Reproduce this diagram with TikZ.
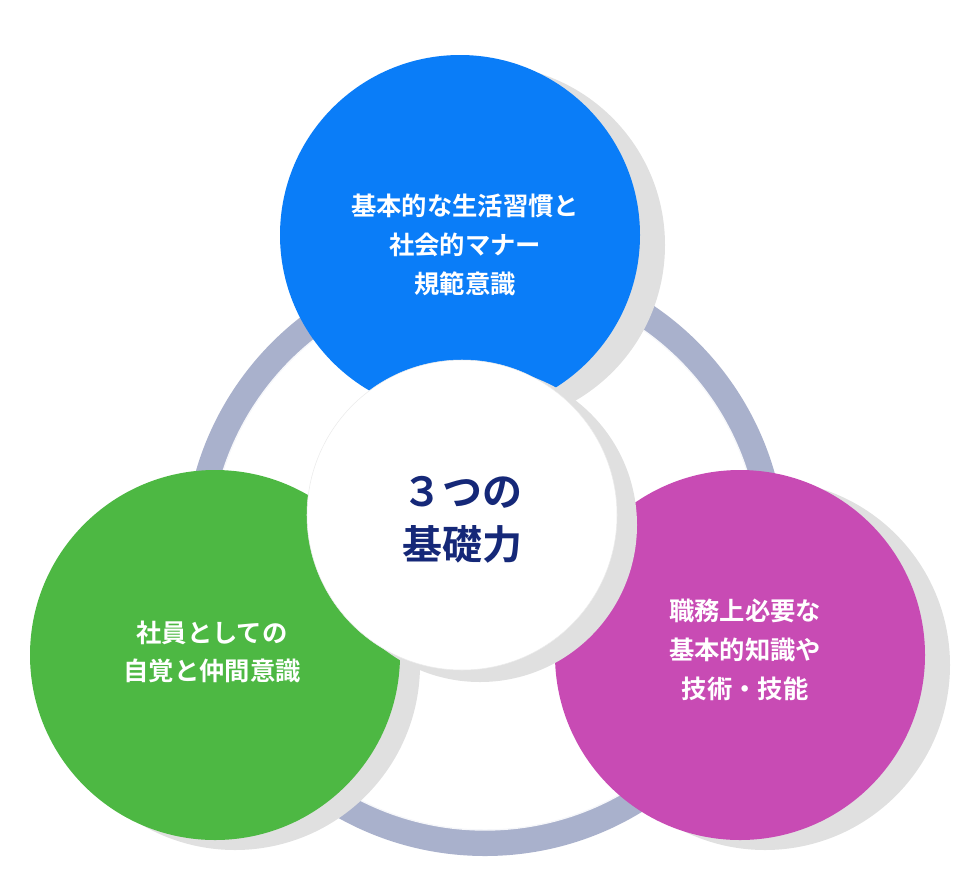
\documentclass[tikz,border=0pt]{standalone}
\usepackage{fontspec}
\newfontfamily\cjk{Noto Sans CJK JP}[BoldFont={Noto Sans CJK JP Bold}]
\definecolor{cblue}{HTML}{0A7DF8}
\definecolor{cgreen}{HTML}{4DB843}
\definecolor{cmag}{HTML}{C84BB4}
\definecolor{cnavy}{HTML}{152878}
\definecolor{cring}{HTML}{A9B1CC}
\tikzset{
 lbl/.style={text=white,align=center,font=\cjk\bfseries\fontsize{19}{29}\selectfont},
 shad/.style={fill=black!12},
}
\begin{document}
\begin{tikzpicture}[x=0.75pt,y=-0.75pt]
\useasboundingbox (0,0) rectangle (974,886);
% ring
\draw[cring,line width=19.5pt] (485,555) circle (288);
\draw[white!90!cring,line width=1pt] (485,555) circle (275);
% blue
\fill[shad] (485,245) circle (180);
\node[circle,fill=cblue,minimum size=360*0.75pt,inner sep=0] (blue) at (460,235) {};
\node[lbl] (tb) at (465,245) {基本的な生活習慣と\\社会的マナー\\規範意識};
% green
\fill[shad] (235,665) circle (185);
\node[circle,fill=cgreen,minimum size=370*0.75pt,inner sep=0] (green) at (215,655) {};
\node[lbl] (tg) at (212,652) {社員としての\\自覚と仲間意識};
% magenta
\fill[shad] (765,665) circle (185);
\node[circle,fill=cmag,minimum size=370*0.75pt,inner sep=0] (mag) at (740,655) {};
\node[lbl] (tm) at (745,650) {職務上必要な\\基本的知識や\\技術・技能};
% center
\fill[shad] (480,525) circle (157);
\node[circle,fill=white,draw=black!8,minimum size=310*0.75pt,inner sep=0] (ctr) at (462,515) {};
\node[text=cnavy,align=center,font=\cjk\bfseries\fontsize{30}{40}\selectfont] (tc) at (462,520) {３つの\\基礎力};
\end{tikzpicture}
\end{document}
